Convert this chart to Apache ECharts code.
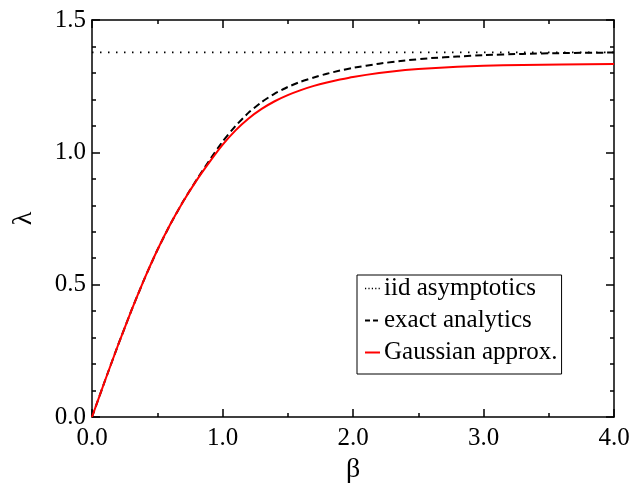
<!DOCTYPE html>
<html>
<head>
<meta charset="utf-8">
<script src="https://cdn.jsdelivr.net/npm/echarts@6/dist/echarts.min.js"></script>
<style>html,body{margin:0;padding:0;background:#fff;}#c{width:633px;height:486px;}</style>
</head>
<body>
<div id="c"></div>
<script>
const betaGrid = [0, 0.1, 0.2, 0.3, 0.4, 0.5, 0.6, 0.7, 0.8, 0.9, 1.0, 1.1, 1.2, 1.3, 1.4, 1.5, 1.6, 1.7, 1.8, 1.9, 2.0, 2.2, 2.4, 2.6, 2.8, 3.0, 3.3, 3.6, 4.0];
const gaussianApprox = [0, 0.138, 0.272, 0.400, 0.520, 0.630, 0.728, 0.815, 0.893, 0.963, 1.028, 1.083, 1.128, 1.164, 1.193, 1.216, 1.235, 1.251, 1.264, 1.275, 1.285, 1.300, 1.311, 1.318, 1.323, 1.327, 1.330, 1.332, 1.334];
const exactAnalytics = [0, 0.138, 0.272, 0.400, 0.520, 0.630, 0.728, 0.816, 0.895, 0.970, 1.040, 1.100, 1.150, 1.190, 1.222, 1.247, 1.267, 1.283, 1.297, 1.309, 1.319, 1.335, 1.347, 1.356, 1.362, 1.367, 1.372, 1.375, 1.377];
const iidX = [0, 4];
const iidY = [1.378, 1.378];
const xTicks = ['0.0', '1.0', '2.0', '3.0', '4.0'];
const yTicks = ['0.0', '0.5', '1.0', '1.5'];
const names = ['iid asymptotics', 'exact analytics', 'Gaussian approx.'];

const serif = '"Liberation Serif", "DejaVu Serif", serif';
const pairs = (xs, ys) => xs.map((x, i) => [x, ys[i]]);

const chart = echarts.init(document.getElementById('c'), null, {renderer: 'canvas'});
const axisCommon = {
  axisLine: {show: true, onZero: false, lineStyle: {color: '#000', width: 1.5}},
  axisTick: {show: true, inside: true, length: 8, lineStyle: {color: '#000', width: 1.5}},
  minorTick: {show: true, length: 4, lineStyle: {color: '#000', width: 1.5}},
  splitLine: {show: false}
};
function xa(pos, labels) {
  return Object.assign({}, axisCommon, {
    type: 'value', position: pos, min: 0, max: 4, interval: 1,
    minorTick: Object.assign({}, axisCommon.minorTick, {splitNumber: 2}),
    axisLabel: {show: labels, margin: 9, fontFamily: serif, fontSize: 25, color: '#000',
      formatter: v => xTicks[Math.round(v)]},
    name: labels ? 'β' : '', nameLocation: 'middle', nameGap: 34,
    nameTextStyle: {fontFamily: serif, fontSize: 28, color: '#000'}
  });
}
function ya(pos, labels) {
  return Object.assign({}, axisCommon, {
    type: 'value', position: pos, min: 0, max: 1.5, interval: 0.5,
    minorTick: Object.assign({}, axisCommon.minorTick, {splitNumber: 5}),
    axisLabel: {show: labels, margin: 6, fontFamily: serif, fontSize: 25, color: '#000',
      formatter: v => yTicks[Math.round(v * 2)]},
    name: labels ? 'λ' : '', nameLocation: 'middle', nameGap: 54, nameRotate: 90,
    nameTextStyle: {fontFamily: serif, fontSize: 28, color: '#000'}
  });
}
chart.setOption({
  animation: false,
  backgroundColor: '#fff',
  grid: {left: 92, right: 19, top: 20, bottom: 69, containLabel: false, outerBoundsMode: 'none'},
  xAxis: [xa('bottom', true), xa('top', false)],
  yAxis: [ya('left', true), ya('right', false)],
  legend: {
    orient: 'vertical', left: 357, top: 275,
    data: [
      {name: names[0], lineStyle: {type: [1.2, 2.2], width: 1.5}},
      {name: names[1], lineStyle: {type: [5, 3], width: 2}},
      {name: names[2]}
    ],
    itemWidth: 15, itemHeight: 14, itemGap: 7,
    itemStyle: {opacity: 0},
    padding: [1, 4, 9, 7],
    borderColor: '#000', borderWidth: 1, borderRadius: 0,
    backgroundColor: '#fff',
    textStyle: {fontFamily: serif, fontSize: 25, lineHeight: 25, color: '#000', padding: [0, 0, 0, -1]}
  },
  series: [
    {name: names[0], type: 'line', data: pairs(iidX, iidY), showSymbol: false, symbol: 'none',
     lineStyle: {color: '#000', width: 1.8, type: [1.5, 6.5]}, itemStyle: {color: '#000'}},
    {name: names[1], type: 'line', data: pairs(betaGrid, exactAnalytics), showSymbol: false, symbol: 'none', smooth: 0.15,
     lineStyle: {color: '#000', width: 2, type: [7, 4]}, itemStyle: {color: '#000'}},
    {name: names[2], type: 'line', data: pairs(betaGrid, gaussianApprox), showSymbol: false, symbol: 'none', smooth: 0.15,
     lineStyle: {color: '#ff0000', width: 2}, itemStyle: {color: '#ff0000'}}
  ]
});
</script>
</body>
</html>
